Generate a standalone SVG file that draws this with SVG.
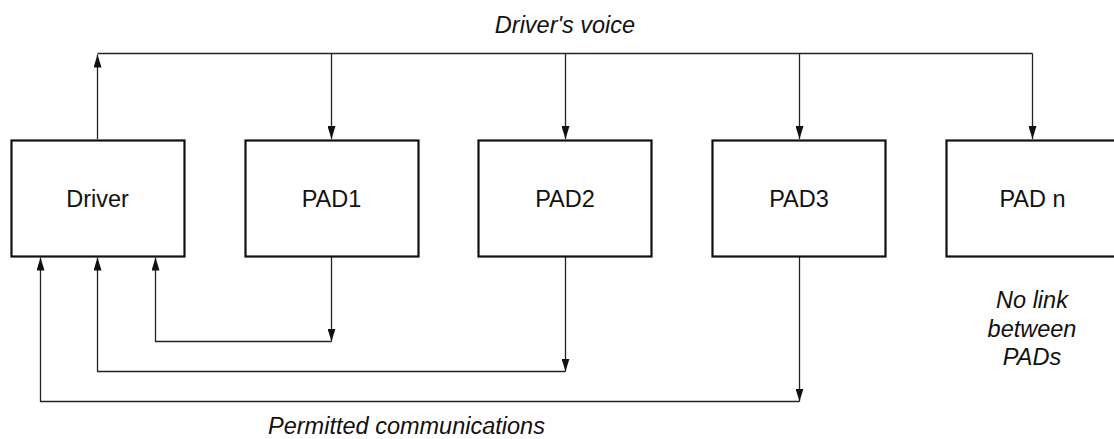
<svg xmlns="http://www.w3.org/2000/svg" width="1114" height="439" viewBox="0 0 1114 439">
  <style>
    .box { fill: #ffffff; stroke: #111111; stroke-width: 2.2; }
    .lbl { font-family: "Liberation Sans", Arial, sans-serif; font-size: 23.5px; fill: #111111; text-anchor: middle; }
    .note { font-family: "Liberation Sans", Arial, sans-serif; font-size: 23.5px; font-style: italic; fill: #111111; text-anchor: middle; }
    .wire { fill: none; stroke: #222222; stroke-width: 1.3; }
    .arrow { fill: none; stroke: #222222; stroke-width: 1.3; marker-end: url(#head); }
  </style>
  <defs>
    <marker id="head" markerUnits="userSpaceOnUse" markerWidth="13" markerHeight="8" refX="13" refY="4" orient="auto">
      <path d="M0,0 L13,4 L0,8 z" fill="#111111"/>
    </marker>
  </defs>
  <rect width="1114" height="439" fill="#ffffff"/>

  <!-- connectors -->
  <g id="connectors">
    <!-- shared voice channel -->
    <path class="wire" d="M97.5,53.5 H1032.5"/>
    <path class="arrow" d="M97.5,139 V54.5"/>
    <path class="arrow" d="M331.5,53.5 V139"/>
    <path class="arrow" d="M565.5,53.5 V139"/>
    <path class="arrow" d="M799.5,53.5 V139"/>
    <path class="arrow" d="M1032.5,53.5 V139"/>
    <!-- PAD1 back to driver -->
    <path class="arrow" d="M331.5,257 V341.5"/>
    <path class="arrow" d="M331.5,341.5 H155.5 V257.5"/>
    <!-- PAD2 back to driver -->
    <path class="arrow" d="M565.5,257 V371.5"/>
    <path class="arrow" d="M565.5,371.5 H97.5 V257.5"/>
    <!-- PAD3 back to driver -->
    <path class="arrow" d="M799.5,257 V401.5"/>
    <path class="arrow" d="M799.5,401.5 H40.5 V257.5"/>
  </g>

  <g id="driver">
    <rect class="box" x="11.5" y="140.5" width="173" height="116"/>
    <text class="lbl" x="97.5" y="206.5">Driver</text>
  </g>
  <g id="pad1">
    <rect class="box" x="245.5" y="140.5" width="173" height="116"/>
    <text class="lbl" x="331.5" y="206.5">PAD1</text>
  </g>
  <g id="pad2">
    <rect class="box" x="478.5" y="140.5" width="173" height="116"/>
    <text class="lbl" x="565" y="206.5">PAD2</text>
  </g>
  <g id="pad3">
    <rect class="box" x="712.5" y="140.5" width="173" height="116"/>
    <text class="lbl" x="799" y="206.5">PAD3</text>
  </g>
  <g id="padn">
    <rect class="box" x="946.5" y="140.5" width="173" height="116"/>
    <text class="lbl" x="1032.5" y="206.5">PAD n</text>
  </g>

  <g id="labels">
    <text class="note" x="565" y="33">Driver's voice</text>
    <text class="note" x="406.5" y="434">Permitted communications</text>
    <text class="note" x="1032" y="308">No link</text>
    <text class="note" x="1032" y="336.5">between</text>
    <text class="note" x="1032" y="365">PADs</text>
  </g>
</svg>
